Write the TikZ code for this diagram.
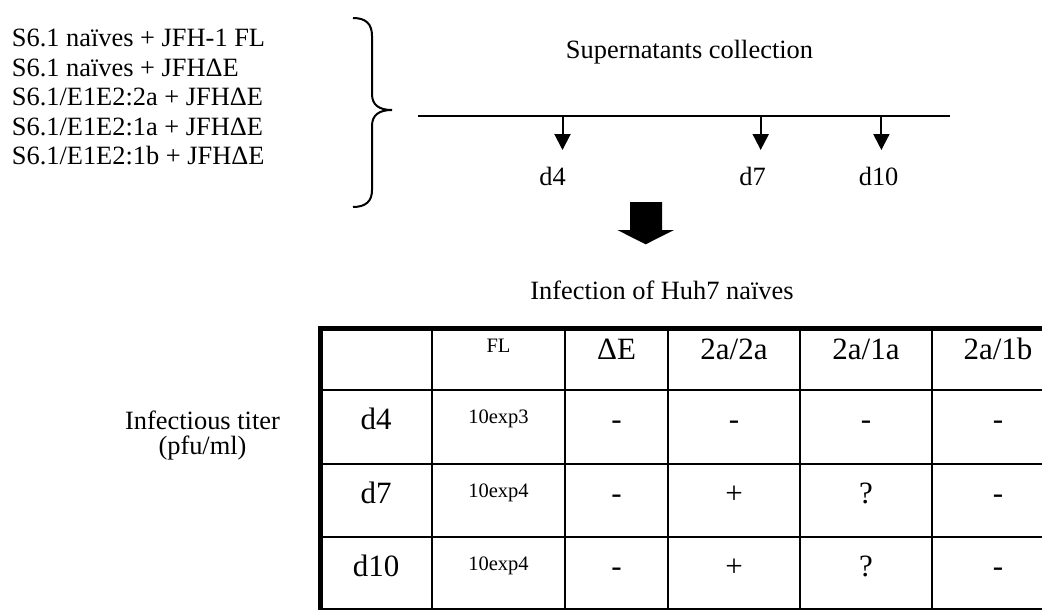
\documentclass[tikz,border=0pt]{standalone}
\usepackage{fontspec}
\setmainfont{Liberation Serif}
\usetikzlibrary{arrows.meta}
\begin{document}
\begin{tikzpicture}[x=1pt,y=-1pt,
  txt/.style={font=\fontsize{26.4}{30}\selectfont, inner sep=0pt},
  bigtxt/.style={font=\fontsize{31}{36}\selectfont, inner sep=0pt, anchor=base},
  smalltxt/.style={font=\fontsize{20.5}{24}\selectfont, inner sep=0pt, anchor=base},
  gridline/.style={line width=2pt},
  borderline/.style={line width=5pt},
  tickarrow/.style={line width=2pt, -{Triangle[width=16pt,length=16pt]}},
]
\useasboundingbox (0,0) rectangle (1042,610);

% list of conditions
\node[txt, anchor=base west] (l1) at (11.7,46.5) {S6.1 naïves + JFH-1 FL};
\node[txt, anchor=base west] (l2) at (11.7,76.1) {S6.1 naïves + JFHΔE};
\node[txt, anchor=base west] (l3) at (11.7,105.7) {S6.1/E1E2:2a + JFHΔE};
\node[txt, anchor=base west] (l4) at (11.7,135.3) {S6.1/E1E2:1a + JFHΔE};
\node[txt, anchor=base west] (l5) at (11.7,164.9) {S6.1/E1E2:1b + JFHΔE};

% brace
\draw[line width=2pt] (353,18) .. controls (366,18) and (372,24) .. (372,36)
  -- (372,94) .. controls (372,105) and (379,110) .. (392,110)
  .. controls (379,110) and (372,115) .. (372,126)
  -- (372,190) .. controls (372,201) and (366,207) .. (353,207);

% timeline
\node[txt, anchor=base] (sup) at (689.5,59) {Supernatants collection};
\coordinate (ls) at (418,116.4);
\coordinate (le) at (950,116.4);
\draw[line width=2pt] (ls) -- (le);
\coordinate (a4) at (562.5,116.4);
\coordinate (a7) at (760.7,116.4);
\coordinate (a10) at (881.4,116.4);
\coordinate (b4) at (562.5,150);
\coordinate (b7) at (760.7,150);
\coordinate (b10) at (881.4,150);
\draw[tickarrow] (a4) -- (b4);
\draw[tickarrow] (a7) -- (b7);
\draw[tickarrow] (a10) -- (b10);
\node[txt, anchor=base] (d4) at (552.5,185) {d4};
\node[txt, anchor=base] (d7) at (752.5,185) {d7};
\node[txt, anchor=base] (d10) at (878.6,185) {d10};

% block arrow
\fill (630,202) -- (662,202) -- (662,230) -- (674,230) -- (645.7,244.3)
  -- (617.3,230) -- (630,230) -- cycle;

\node[txt, anchor=base] (inf) at (662,299) {Infection of Huh7 naïves};

% side label
\node[txt, anchor=base] (it1) at (202.5,429) {Infectious titer};
\node[txt, anchor=base] (it2) at (202.5,454) {(pfu/ml)};

% table
\begin{scope}
\clip (0,0) rectangle (1042,610);
\foreach \yy in {390,464,537} \draw[gridline] (320,\yy) -- (1064,\yy);
\foreach \xx in {432,565,668,800,932} \draw[gridline] (\xx,328) -- (\xx,609);
\draw[gridline] (318,608.5) -- (1064,608.5);
\draw[borderline] (317.5,328) -- (1066,328);
\draw[borderline] (320,325.5) -- (320,610);
\draw[borderline] (1064,328) -- (1064,610);
\end{scope}

\node[smalltxt] (hFL) at (498.5,352) {FL};
\node[bigtxt] (hdE) at (616.5,359) {ΔE};
\node[bigtxt] (h22) at (734,359) {2a/2a};
\node[bigtxt] (h21a) at (866,359) {2a/1a};
\node[bigtxt] (h21b) at (998,359) {2a/1b};

\node[bigtxt] (r4) at (376,429) {d4};
\node[smalltxt] (r4fl) at (498.5,423) {10exp3};
\node[bigtxt] (r4de) at (616.5,429) {-};
\node[bigtxt] (r4a) at (734,429) {-};
\node[bigtxt] (r4b) at (866,429) {-};
\node[bigtxt] (r4c) at (998,429) {-};

\node[bigtxt] (r7) at (376,503) {d7};
\node[smalltxt] (r7fl) at (498.5,497) {10exp4};
\node[bigtxt] (r7de) at (616.5,503) {-};
\node[bigtxt] (r7a) at (734,503) {+};
\node[bigtxt] (r7b) at (866,503) {?};
\node[bigtxt] (r7c) at (998,503) {-};

\node[bigtxt] (r10) at (376,576) {d10};
\node[smalltxt] (r10fl) at (498.5,570) {10exp4};
\node[bigtxt] (r10de) at (616.5,576) {-};
\node[bigtxt] (r10a) at (734,576) {+};
\node[bigtxt] (r10b) at (866,576) {?};
\node[bigtxt] (r10c) at (998,576) {-};
\end{tikzpicture}
\end{document}
